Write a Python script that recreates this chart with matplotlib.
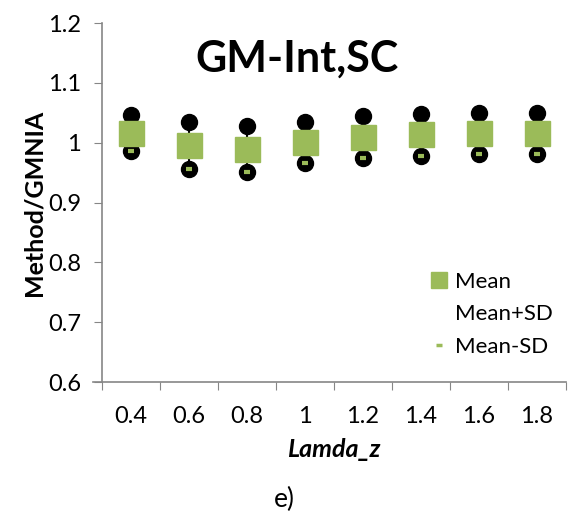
import numpy as np
import matplotlib.pyplot as plt
from matplotlib.lines import Line2D

plt.rcParams['font.family'] = ['Lato', 'DejaVu Sans']

# data
lamda = ['0.4', '0.6', '0.8', '1', '1.2', '1.4', '1.6', '1.8']
mean = [1.016, 0.996, 0.989, 1.001, 1.009, 1.014, 1.016, 1.016]
mean_plus_sd = [1.046, 1.034, 1.028, 1.034, 1.044, 1.048, 1.049, 1.049]
mean_minus_sd = [0.986, 0.956, 0.951, 0.966, 0.974, 0.978, 0.981, 0.981]

green = '#9BBB59'
grey = '#868686'

fig = plt.figure(figsize=(5.68, 5.17), dpi=100)
ax = fig.add_axes([0.1796, 0.2611, 0.8169, 0.6944])

x = np.arange(len(lamda))
ax.vlines(x, mean_minus_sd, mean_plus_sd, color='black', lw=1.5, zorder=1)
ax.plot(x, mean_plus_sd, 'o', color='black', ms=11.5, zorder=2)
ax.plot(x, mean_minus_sd, 'o', color='black', ms=11.5, zorder=2)
ax.plot(x, mean_minus_sd, '_', color=green, ms=4.5, mew=3, zorder=3)
ax.plot(x, mean, 's', color=green, ms=18, zorder=4)

ax.set_xlim(-0.5, len(lamda) - 0.5)
ax.set_ylim(0.6, 1.2)
ax.set_yticks(np.arange(0.6, 1.21, 0.1))
ax.set_yticklabels(['0.6', '0.7', '0.8', '0.9', '1', '1.1', '1.2'], fontsize=17)
ax.set_xticks(np.arange(-0.5, len(lamda), 1.0))
ax.set_xticklabels([])
ax.set_xticks(x, minor=True)
ax.set_xticklabels(lamda, minor=True, fontsize=17)
ax.tick_params(axis='x', which='major', length=6, color=grey, direction='out')
ax.tick_params(axis='x', which='minor', length=0, pad=17)
ax.tick_params(axis='y', length=6, color=grey, pad=9)

for s in ['top', 'right']:
    ax.spines[s].set_visible(False)
for s in ['left', 'bottom']:
    ax.spines[s].set_color(grey)
    ax.spines[s].set_linewidth(1.2)
ax.spines['bottom'].set_bounds(-0.65, len(lamda) - 0.5)

ax.set_ylabel('Method/GMNIA', fontsize=18, fontweight='bold', labelpad=2)
ax.set_xlabel('Lamda_z', fontsize=18, fontweight='bold', style='italic', labelpad=8)
ax.text(0.42, 0.9, 'GM-Int,SC', transform=ax.transAxes, ha='center', va='center',
        fontsize=31, fontweight='bold')

handles = [
    Line2D([], [], ls='none', marker='s', color=green, ms=11),
    Line2D([], [], ls='none', marker='none'),
    Line2D([], [], ls='none', marker='_', color=green, ms=4, mew=2.5),
]
ax.legend(handles, ['Mean', 'Mean+SD', 'Mean-SD'], loc='lower left',
          bbox_to_anchor=(0.665, 0.015), frameon=False, fontsize=16,
          handlelength=0.8, handletextpad=0.3, labelspacing=0.55)

fig.text(0.5, 0.033, 'e)', ha='center', va='center', fontsize=19)

fig.savefig('out.png', dpi=100)
